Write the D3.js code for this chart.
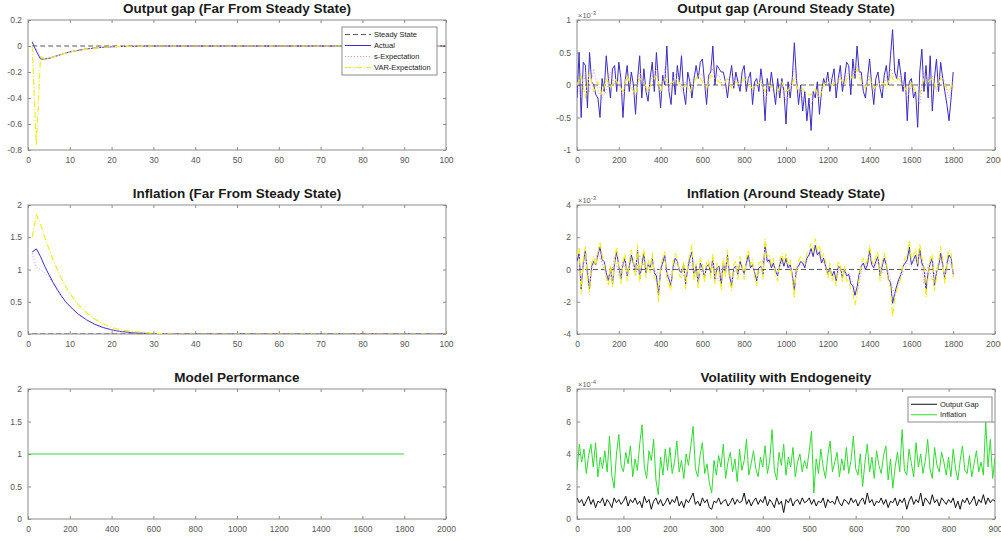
<!DOCTYPE html>
<html>
<head>
<meta charset="utf-8">
<script src="https://cdn.jsdelivr.net/npm/d3@7"></script>
<style>
  body { margin: 0; background: #fff; }
  svg { display: block; font-family: "Liberation Sans", Arial, sans-serif; }
</style>
</head>
<body>
<script>
// ---- data ----
// far from steady state, [period, value]
const ogFarActual = [[1,0.03],[2,-0.04],[3,-0.1],[4,-0.1],[5,-0.095],[6,-0.085],[7,-0.075],[8,-0.065],[9,-0.055],[10,-0.046],[12,-0.033],[14,-0.023],[16,-0.015],[18,-0.01],[20,-0.006],[22,-0.004],[25,-0.002],[30,0],[100,0]];
const ogFarSExp = [[1,0.04],[2,-0.02],[3,-0.09],[4,-0.095],[5,-0.09],[6,-0.082],[7,-0.072],[8,-0.062],[9,-0.053],[10,-0.044],[12,-0.031],[14,-0.022],[16,-0.014],[18,-0.009],[20,-0.005],[22,-0.003],[25,-0.001],[30,0],[100,0]];
const ogFarVar = [[1,0.0],[2,-0.76],[3,-0.08],[4,-0.1],[5,-0.095],[6,-0.086],[7,-0.076],[8,-0.066],[9,-0.056],[10,-0.047],[12,-0.034],[14,-0.024],[16,-0.016],[18,-0.01],[20,-0.006],[22,-0.004],[25,-0.002],[30,0],[100,0]];

const infFarActual = [[1,1.27],[2,1.32],[3,1.2],[4,1.05],[5,0.92],[6,0.8],[7,0.69],[8,0.59],[9,0.5],[10,0.43],[12,0.31],[14,0.22],[16,0.15],[18,0.1],[20,0.065],[22,0.04],[25,0.02],[30,0.005],[35,0],[100,0]];
const infFarSExp = [[1,1.25],[2,1.03],[3,1.0],[4,0.95],[5,0.88],[6,0.78],[7,0.67],[8,0.57],[9,0.49],[10,0.42],[12,0.3],[14,0.21],[16,0.14],[18,0.09],[20,0.06],[22,0.04],[25,0.02],[30,0.005],[35,0],[100,0]];
const infFarVar = [[1,1.5],[2,1.85],[3,1.7],[4,1.5],[5,1.32],[6,1.15],[7,1.0],[8,0.86],[9,0.74],[10,0.63],[12,0.46],[14,0.33],[16,0.23],[18,0.16],[20,0.1],[22,0.07],[25,0.04],[30,0.01],[35,0],[100,0]];

const steadyFar = [[1,0],[100,0]];
const performance = [[1,1],[1800,1]];

// around steady state (x 1e-3), actual sampled every 10 periods, expectations every 20
const ogStep = 10, ogExpStep = 20;
const ogSsActual = [
  -0.2,0.5,-0.5,0.35,0.3,-0.35,0.5,0.05,0.0,-0.15,-0.2,-0.5,0.1,-0.1,0.45,0.1,-0.2,0.25,0.3,-0.1,
  0.35,0.1,-0.5,0.05,0.3,-0.1,0.2,0.0,-0.45,0.1,0.45,-0.2,0.25,-0.1,-0.25,0.1,0.35,-0.1,0.5,0.05,
  -0.35,0.15,0.0,0.6,-0.1,-0.3,0.2,-0.15,0.3,0.05,0.45,-0.1,-0.3,0.2,0.05,-0.2,0.1,0.3,0.1,0.35,
  0.4,0.05,-0.3,0.15,0.2,0.6,0.0,0.3,0.25,0.2,0.2,0.05,-0.2,0.1,0.3,-0.05,0.2,0.05,-0.1,0.2,
  0.3,-0.1,0.1,0.2,-0.3,0.05,0.1,-0.1,0.25,0.0,-0.55,0.1,-0.1,0.2,-0.05,-0.3,0.1,-0.2,0.1,-0.1,
  -0.6,0.05,-0.2,0.1,0.65,0.1,-0.3,0.0,-0.4,-0.1,-0.55,-0.2,-0.7,-0.1,-0.2,0.05,-0.45,-0.1,0.1,0.0,
  0.2,-0.1,0.1,0.25,-0.2,0.1,0.3,-0.1,0.1,0.35,0.3,-0.15,0.4,0.1,0.6,0.2,0.2,-0.1,-0.2,0.1,
  0.4,0.0,-0.3,0.1,0.2,-0.05,-0.2,0.15,0.3,0.0,0.45,0.85,0.2,0.1,0.4,0.15,-0.1,0.2,-0.55,0.05,
  0.1,-0.2,-0.1,-0.65,0.2,0.55,-0.1,0.3,-0.2,0.45,-0.4,0.1,0.4,-0.1,0.35,0.1,-0.1,-0.3,-0.55,-0.2,0.2
];
const ogSsSExp = [
  0.0,-0.2,0.2,-0.1,0.25,-0.1,-0.2,-0.1,0.2,0.0,
  0.1,-0.2,0.15,0.05,-0.2,0.2,0.0,-0.1,0.15,0.25,
  -0.15,0.25,-0.1,0.1,0.2,-0.1,0.05,0.0,0.15,0.2,
  0.15,-0.1,0.3,0.15,0.15,-0.05,0.1,0.0,0.1,0.05,
  0.15,0.1,-0.1,0.05,0.1,-0.25,0.0,-0.1,-0.05,0.0,
  -0.25,-0.05,0.25,-0.1,-0.2,-0.25,-0.3,-0.1,-0.2,0.0,
  0.1,0.1,-0.05,0.15,0.05,0.2,0.15,0.3,0.1,-0.05,
  0.15,-0.1,0.05,-0.05,0.1,0.25,0.1,0.15,0.05,-0.2,
  0.0,-0.15,-0.3,0.2,0.1,0.15,-0.1,0.15,0.05,-0.2,0.0
];
const ogSsVar = [
  0.0,0.15,-0.2,0.2,-0.1,0.05,-0.15,0.1,-0.05,0.1,
  0.0,-0.1,0.15,-0.05,-0.15,0.1,0.05,-0.1,0.05,0.15,
  -0.1,0.1,0.0,0.05,0.1,-0.05,0.0,-0.1,0.05,0.15,
  0.05,-0.05,0.15,0.1,0.05,0.0,0.1,-0.05,0.05,0.0,
  0.1,0.0,-0.05,0.0,0.05,-0.1,0.0,-0.05,-0.1,0.05,
  -0.1,-0.05,0.1,-0.1,-0.05,-0.15,-0.15,-0.05,-0.2,0.0,
  0.05,0.0,0.05,0.1,0.0,0.15,0.1,0.25,0.05,-0.05,
  0.1,-0.05,0.0,0.05,-0.05,0.15,0.05,0.1,0.0,-0.1,
  0.05,-0.1,-0.15,0.1,0.05,0.1,-0.05,0.1,0.0,-0.1,0.05
];

const infStep = 10, infExpStep = 20;
const infSsActual = [
  0.5,1.0,-1.2,0.4,1.2,-0.3,-1.2,0.2,0.5,0.3,0.9,1.4,0.6,0.5,-0.2,-0.7,0.1,-0.9,0.4,1.1,
  0.2,-0.6,0.3,0.7,-0.4,0.2,0.9,0.4,-0.1,1.2,-0.6,0.3,1.0,-0.2,0.3,0.1,0.7,-0.2,-0.4,-1.6,
  0.0,0.4,0.9,-0.3,-0.6,-1.0,0.2,0.7,0.5,-0.1,-0.2,0.3,-0.9,0.1,0.7,1.1,-0.4,0.2,-0.9,0.4,
  0.1,-0.5,0.2,0.3,-0.2,0.7,-0.6,0.1,0.2,-1.0,0.4,-0.2,0.9,-0.4,-1.0,0.1,0.2,-0.3,0.5,0.1,
  -0.3,0.4,0.9,0.1,0.3,-0.2,-0.7,0.1,0.2,-0.3,1.6,0.5,0.6,0.1,0.4,-0.1,-0.4,0.3,0.7,0.2,
  0.7,0.1,0.3,-0.3,-1.3,0.1,0.2,0.5,0.4,0.1,0.7,0.9,1.3,0.8,1.5,0.9,1.1,0.4,0.7,0.2,
  -0.3,0.1,-0.4,-0.1,-0.7,0.2,0.1,-0.5,0.0,-0.4,-0.3,-0.9,-1.0,-1.6,-1.1,-0.3,0.2,0.4,0.0,0.3,
  1.2,0.3,0.1,0.5,0.8,-0.4,0.2,0.7,0.3,-0.6,-0.8,-2.1,-1.5,-1.0,-0.6,-0.3,0.2,0.4,0.6,1.4,
  0.3,0.6,0.9,0.2,1.3,0.4,0.1,-1.3,-0.2,0.4,0.7,-1.0,-0.2,0.2,1.0,0.3,-0.6,0.4,0.9,0.7,-0.3
];
const infSsSExp = [
  0.4,-0.8,0.9,-0.8,0.3,1.1,0.4,-0.5,-0.6,0.8,
  -0.4,0.5,-0.3,0.7,-0.4,0.9,0.2,0.1,0.5,-0.3,
  0.1,0.6,-0.5,0.1,0.5,-0.2,-0.6,0.5,-0.3,-0.6,
  0.0,0.1,0.5,-0.4,-0.7,0.2,0.6,-0.8,0.1,0.3,
  -0.2,0.6,0.2,-0.5,0.1,1.2,0.4,0.2,-0.2,0.4,
  0.5,0.1,-1.0,0.2,0.3,0.6,1.0,1.1,0.8,0.4,
  -0.2,-0.3,-0.4,0.1,-0.3,-0.2,-0.8,-1.4,-0.2,0.2,
  0.9,0.1,0.6,-0.2,0.4,-0.7,-1.6,-0.8,-0.2,0.4,
  0.2,0.7,1.0,-0.9,0.3,-0.7,0.1,0.7,-0.4,0.6,-0.2
];
const infSsVar = [
  0.8,1.4,-1.5,0.6,1.4,-0.6,-1.4,0.4,0.8,0.2,1.1,1.7,0.9,0.3,-0.5,-1.0,0.3,-1.1,0.7,1.4,
  0.3,-0.9,0.5,1.0,-0.7,0.5,1.2,0.6,-0.4,1.5,-0.8,0.6,1.3,-0.5,0.6,-0.2,1.0,-0.5,-0.7,-2.0,
  0.2,0.7,1.1,-0.6,-0.9,-1.3,0.5,1.0,0.7,-0.4,-0.5,0.5,-1.2,0.3,1.0,1.5,-0.7,0.4,-1.2,0.7,
  0.3,-0.8,0.5,0.6,-0.5,1.0,-0.9,0.4,-0.2,-1.3,0.7,-0.5,1.2,-0.7,-1.3,0.3,0.5,-0.6,0.8,0.3,
  -0.6,0.7,1.2,0.3,0.6,-0.5,-1.0,0.4,0.5,-0.6,1.9,0.8,0.9,0.3,0.7,-0.4,-0.7,0.6,1.0,0.4,
  1.0,0.3,0.6,-0.6,-1.8,0.3,0.5,0.8,0.7,0.3,1.0,1.2,1.6,1.1,1.9,1.2,1.5,0.7,1.0,0.4,
  -0.6,0.4,-0.7,-0.4,-1.0,0.5,0.3,-0.8,0.2,-0.7,-0.6,-1.2,-1.4,-2.2,-1.5,-0.6,0.4,0.7,0.3,0.6,
  1.5,0.6,0.3,0.8,1.1,-0.7,0.5,1.0,0.6,-0.9,-1.1,-2.9,-1.9,-1.3,-0.9,-0.5,0.4,0.7,0.9,1.8,
  0.6,0.9,1.3,0.4,1.6,0.7,0.3,-1.7,-0.5,0.7,1.0,-1.3,-0.5,0.5,1.4,0.6,-0.9,0.7,1.2,1.0,-0.5
];
const steadySs = [[0,0],[1800,0]];

// volatility (x 1e-4), sampled every 5 periods
const volStep = 5;
const volOutputGap = [
  1.3,1.0,1.2,0.8,1.1,1.4,0.9,1.2,0.7,1.1,1.0,1.3,0.8,1.2,1.0,0.7,1.3,1.0,1.2,0.9,
  1.1,1.4,0.8,1.2,1.0,1.3,0.9,1.1,0.7,1.4,1.0,1.2,0.6,1.1,1.3,0.9,1.2,0.8,1.0,1.3,
  0.9,1.2,1.0,1.4,0.8,1.1,0.7,1.2,1.0,1.3,1.6,0.9,1.1,0.8,1.3,1.0,1.2,0.7,0.6,1.1,
  1.0,1.3,0.9,1.1,1.2,0.8,1.0,1.3,0.9,1.2,1.0,1.1,1.6,0.9,1.2,0.8,1.1,1.3,0.9,1.2,
  1.0,1.4,0.8,1.2,1.0,0.7,1.3,0.9,1.1,0.4,1.2,1.0,1.3,0.8,1.1,1.2,0.9,1.3,1.0,1.1,
  1.3,0.9,1.2,0.8,1.1,1.0,1.3,0.7,1.2,1.0,1.1,0.9,1.4,1.0,0.8,1.2,1.1,0.9,1.3,1.0,
  1.2,0.8,1.1,1.3,0.9,1.6,1.0,1.2,0.8,1.1,1.0,1.3,0.9,1.2,0.7,1.1,1.0,1.3,0.8,1.2,
  1.0,1.3,0.6,1.1,1.4,0.9,1.2,1.0,1.6,0.8,1.3,1.1,0.9,1.5,1.0,1.2,0.8,1.3,1.1,0.9,
  1.2,1.0,1.3,0.7,1.1,0.6,1.2,1.0,1.3,0.9,1.1,1.4,0.8,1.2,1.0,1.5,0.9,1.3,1.0,1.2,1.1
];
const volInflation = [
  3.0,4.6,3.5,4.3,2.8,3.9,4.6,3.2,4.7,2.6,3.8,3.1,4.2,2.9,5.1,2.7,1.9,4.0,5.2,3.3,
  2.9,4.1,3.4,4.5,2.6,3.7,3.0,4.6,5.8,3.2,2.5,4.2,3.6,4.9,2.4,1.5,3.8,2.7,4.3,3.0,
  4.4,2.8,3.5,4.8,2.9,3.6,2.5,4.0,3.3,4.5,5.7,3.1,2.6,3.9,4.7,2.8,3.4,2.2,1.6,3.6,
  2.7,3.9,3.2,4.6,2.5,3.5,4.1,2.9,3.7,2.3,4.3,3.0,3.6,4.9,2.7,3.4,4.2,3.1,2.6,3.8,
  3.2,4.5,2.8,3.6,5.5,3.0,2.4,4.1,3.3,4.6,2.7,3.8,3.2,4.4,2.6,3.5,4.0,2.9,3.6,3.1,
  4.2,5.4,1.6,3.7,2.8,4.3,3.2,2.5,3.9,4.8,2.9,3.5,4.1,2.6,3.7,3.0,4.4,2.8,3.6,5.1,
  3.1,2.7,4.0,2.0,3.5,4.6,2.9,3.8,2.5,4.2,3.3,2.8,3.9,4.5,2.4,3.7,1.9,3.2,4.1,2.9,
  5.5,3.0,2.7,4.3,3.4,2.6,4.7,3.2,4.0,2.8,3.6,4.9,3.1,2.5,4.4,3.3,2.9,4.1,3.5,2.7,
  3.8,2.6,4.3,3.1,2.4,3.6,4.5,3.0,2.8,3.9,2.6,3.4,4.2,2.9,3.5,2.7,6.0,3.2,4.9,2.5,3.8
];

const farLegend = ["Steady State", "Actual", "s-Expectation", "VAR-Expectation"];
const volLegend = ["Output Gap", "Inflation"];

// ---- styles ----
const C = {
  steady: { stroke: "#5a5a5a", width: 1, dash: "5,3" },
  actual: { stroke: "#3a2cc4", width: 1, dash: null },
  sexp: { stroke: "#e58ae5", width: 1, dash: "1,2" },
  varexp: { stroke: "#f2ee1a", width: 1.2, dash: "6,2,1,2" },
  green: { stroke: "#2edc2e", width: 1, dash: null },
  black: { stroke: "#111", width: 1, dash: null }
};

const svg = d3.select("body").append("svg").attr("width", 1001).attr("height", 540);
svg.append("rect").attr("width", 1001).attr("height", 540).attr("fill", "#fff");

let clipId = 0;
function panel(o) {
  const x = d3.scaleLinear().domain(o.xd).range([o.x0, o.x1]);
  const y = d3.scaleLinear().domain(o.yd).range([o.y1, o.y0]);
  const g = svg.append("g");
  const fmt = v => String(+v.toFixed(2));
  const axisColor = "#8c8c8c";

  const styleAxis = sel => {
    sel.select(".domain").remove();
    sel.selectAll(".tick line").attr("stroke", axisColor);
    sel.selectAll(".tick text").attr("fill", "#555").style("font-size", "8.5px");
  };
  g.append("g").attr("transform", `translate(0,${o.y1})`)
    .call(d3.axisBottom(x).tickValues(o.xt).tickFormat(fmt).tickSize(-3).tickPadding(7)).call(styleAxis);
  g.append("g").attr("transform", `translate(0,${o.y0})`)
    .call(d3.axisTop(x).tickValues(o.xt).tickFormat("").tickSize(-3)).call(styleAxis);
  g.append("g").attr("transform", `translate(${o.x0},0)`)
    .call(d3.axisLeft(y).tickValues(o.yt).tickFormat(fmt).tickSize(-3).tickPadding(6)).call(styleAxis);
  g.append("g").attr("transform", `translate(${o.x1},0)`)
    .call(d3.axisRight(y).tickValues(o.yt).tickFormat("").tickSize(-3)).call(styleAxis);

  g.append("rect").attr("x", o.x0).attr("y", o.y0)
    .attr("width", o.x1 - o.x0).attr("height", o.y1 - o.y0)
    .attr("fill", "none").attr("stroke", axisColor).attr("stroke-width", 1);

  g.append("text").attr("x", (o.x0 + o.x1) / 2).attr("y", o.y0 - 7)
    .attr("text-anchor", "middle").attr("font-weight", "bold")
    .attr("fill", "#1a1a1a").style("font-size", "13.5px").text(o.title);

  if (o.exp) {
    const t = g.append("text").attr("x", o.x0 + 1).attr("y", o.y0 - 2)
      .attr("fill", "#666").style("font-size", "7.5px");
    t.append("tspan").text("\u00d710");
    t.append("tspan").attr("dy", -3).style("font-size", "6px").text(o.exp);
  }

  const id = "clip" + (clipId++);
  svg.append("clipPath").attr("id", id).append("rect")
    .attr("x", o.x0).attr("y", o.y0).attr("width", o.x1 - o.x0).attr("height", o.y1 - o.y0);
  const plot = g.append("g").attr("clip-path", `url(#${id})`);

  const draw = (pts, st) => {
    plot.append("path").datum(pts)
      .attr("d", d3.line().x(d => x(d[0])).y(d => y(d[1])))
      .attr("fill", "none").attr("stroke", st.stroke)
      .attr("stroke-width", st.width)
      .attr("stroke-dasharray", st.dash)
      .attr("stroke-linejoin", "round");
  };
  return { x, y, g, draw };
}

const stepped = (vals, step) => vals.map((v, i) => [i * step, v]);

function legend(bx, by, bw, rowH, labels, styles) {
  const g = svg.append("g");
  g.append("rect").attr("x", bx).attr("y", by).attr("width", bw)
    .attr("height", rowH * labels.length + 4)
    .attr("fill", "#fff").attr("stroke", "#8c8c8c").attr("stroke-width", 1);
  labels.forEach((lab, i) => {
    const cy = by + 2 + rowH * (i + 0.5);
    const st = styles[i];
    g.append("line").attr("x1", bx + 3).attr("x2", bx + 29).attr("y1", cy).attr("y2", cy)
      .attr("stroke", st.stroke).attr("stroke-width", st.width).attr("stroke-dasharray", st.dash);
    g.append("text").attr("x", bx + 32).attr("y", cy + 2.7)
      .attr("fill", "#222").style("font-size", "7.5px").text(lab);
  });
}

const LX0 = 28, LX1 = 446, RX0 = 577, RX1 = 995;
const rows = [[20, 150], [205, 334], [389, 519]];

// Output gap far
const p1 = panel({ x0: LX0, x1: LX1, y0: rows[0][0], y1: rows[0][1], xd: [0, 100], yd: [-0.8, 0.2],
  xt: d3.range(0, 101, 10), yt: [-0.8, -0.6, -0.4, -0.2, 0, 0.2], title: "Output gap (Far From Steady State)" });
p1.draw(steadyFar, C.steady);
p1.draw(ogFarActual, C.actual);
p1.draw(ogFarSExp, C.sexp);
p1.draw(ogFarVar, C.varexp);
legend(342, 27, 95, 11, farLegend, [C.steady, C.actual, C.sexp, C.varexp]);

// Inflation far
const p2 = panel({ x0: LX0, x1: LX1, y0: rows[1][0], y1: rows[1][1], xd: [0, 100], yd: [0, 2],
  xt: d3.range(0, 101, 10), yt: [0, 0.5, 1, 1.5, 2], title: "Inflation (Far From Steady State)" });
p2.draw(steadyFar, C.steady);
p2.draw(infFarActual, C.actual);
p2.draw(infFarSExp, C.sexp);
p2.draw(infFarVar, C.varexp);

// Model performance
const p3 = panel({ x0: LX0, x1: LX1, y0: rows[2][0], y1: rows[2][1], xd: [0, 2000], yd: [0, 2],
  xt: d3.range(0, 2001, 200), yt: [0, 0.5, 1, 1.5, 2], title: "Model Performance" });
p3.draw(performance, C.green);

// Output gap around SS
const p4 = panel({ x0: RX0, x1: RX1, y0: rows[0][0], y1: rows[0][1], xd: [0, 2000], yd: [-1, 1],
  xt: d3.range(0, 2001, 200), yt: [-1, -0.5, 0, 0.5, 1], title: "Output gap (Around Steady State)", exp: "-3" });
p4.draw(steadySs, C.steady);
p4.draw(stepped(ogSsActual, ogStep), C.actual);
p4.draw(stepped(ogSsSExp, ogExpStep), C.sexp);
p4.draw(stepped(ogSsVar, ogExpStep), C.varexp);

// Inflation around SS
const p5 = panel({ x0: RX0, x1: RX1, y0: rows[1][0], y1: rows[1][1], xd: [0, 2000], yd: [-4, 4],
  xt: d3.range(0, 2001, 200), yt: [-4, -2, 0, 2, 4], title: "Inflation (Around Steady State)", exp: "-3" });
p5.draw(steadySs, C.steady);
p5.draw(stepped(infSsActual, infStep), C.actual);
p5.draw(stepped(infSsSExp, infExpStep), C.sexp);
p5.draw(stepped(infSsVar, infStep), C.varexp);

// Volatility
const p6 = panel({ x0: RX0, x1: RX1, y0: rows[2][0], y1: rows[2][1], xd: [0, 900], yd: [0, 8],
  xt: d3.range(0, 901, 100), yt: [0, 2, 4, 6, 8], title: "Volatility with Endogeneity", exp: "-4" });
p6.draw(stepped(volInflation, volStep), C.green);
p6.draw(stepped(volOutputGap, volStep), C.black);
legend(908, 397, 84, 10.5, volLegend, [C.black, C.green]);
</script>
</body>
</html>
